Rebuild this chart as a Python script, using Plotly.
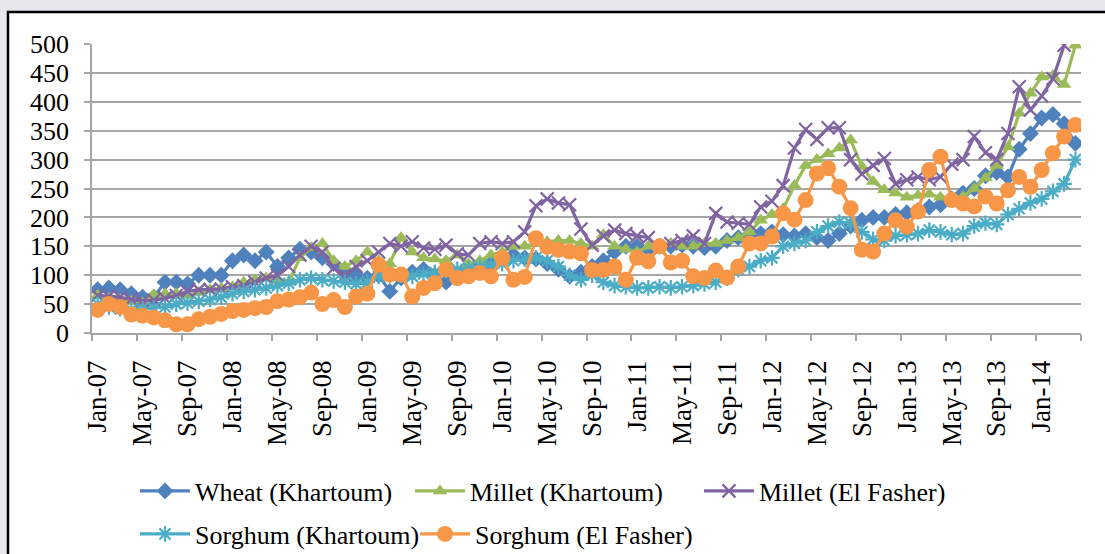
import plotly.graph_objects as go

month_names = ["Jan", "Feb", "Mar", "Apr", "May", "Jun",
               "Jul", "Aug", "Sep", "Oct", "Nov", "Dec"]
months = [f"{m}-{y:02d}" for y in range(7, 15) for m in month_names][:88]

wheat_khartoum = [
    75, 78, 75, 68, 62, 62, 88, 88, 85, 100, 100, 100,
    125, 135, 125, 140, 115, 130, 145, 140, 130, 120, 105, 100,
    95, 100, 72, 95, 105, 110, 100, 88, 100, 110, 115, 120,
    130, 135, 130, 128, 120, 110, 98, 105, 115, 125, 140, 150,
    150, 145, 150, 150, 152, 150, 148, 150, 160, 165, 170, 172,
    175, 170, 168, 172, 165, 160, 172, 185, 195, 200, 200, 205,
    208, 212, 218, 222, 232, 242, 250, 272, 278, 270, 318, 345,
    372, 378, 362, 328]

millet_khartoum = [
    65, 60, 58, 55, 52, 66, 68, 68, 65, 70, 75, 78,
    80, 88, 92, 95, 92, 88, 130, 148, 155, 125, 115, 125,
    140, 125, 120, 165, 140, 130, 128, 125, 135, 120, 125, 135,
    140, 150, 150, 155, 158, 160, 160, 155, 150, 170, 150, 145,
    140, 150, 150, 155, 150, 150, 155, 155, 160, 165, 175, 195,
    205, 215, 255, 290, 300, 310, 320, 334, 288, 262, 248, 242,
    235, 238, 240, 235, 232, 236, 250, 268, 290, 322, 380, 415,
    443, 445, 430, 498]

millet_el_fasher = [
    65, 63, 62, 58, 55, 57, 60, 65, 72, 75, 75, 76,
    80, 82, 88, 95, 100, 115, 135, 150, 140, 112, 100, 115,
    125, 140, 155, 150, 158, 147, 145, 152, 137, 135, 155, 158,
    155, 158, 175, 220, 232, 225, 222, 180, 152, 168, 178, 172,
    168, 165, 145, 155, 160, 168, 155, 207, 192, 190, 188, 218,
    228, 255, 320, 352, 335, 355, 355, 300, 275, 290, 302, 258,
    265, 270, 265, 270, 292, 300, 340, 312, 300, 345, 426, 386,
    410, 440, 498, None]

sorghum_khartoum = [
    50, 45, 42, 40, 42, 43, 45, 50, 52, 55, 58, 62,
    68, 72, 75, 78, 82, 86, 92, 95, 92, 90, 88, 85,
    88, 98, 100, 100, 98, 102, 105, 108, 110, 112, 115, 118,
    120, 125, 128, 130, 125, 115, 100, 92, 100, 88, 82, 80,
    78, 78, 80, 78, 80, 82, 85, 88, 95, 110, 115, 125,
    130, 150, 155, 160, 175, 185, 192, 190, 175, 162, 160, 168,
    170, 172, 178, 175, 170, 172, 185, 190, 188, 205, 215, 225,
    232, 245, 258, 300]

sorghum_el_fasher = [
    40, 50, 45, 32, 30, 27, 22, 15, 15, 24, 28, 33,
    38, 40, 43, 45, 55, 58, 62, 70, 50, 57, 45, 63,
    68, 118, 101, 101, 63, 78, 86, 110, 95, 98, 104, 98,
    130, 92, 97, 164, 149, 144, 141, 138, 109, 109, 115, 92,
    130, 124, 150, 122, 125, 98, 95, 108, 96, 115, 155, 155,
    167, 207, 196, 230, 276, 285, 253, 216, 144, 141, 172, 195,
    184, 210, 282, 305, 230, 224, 219, 236, 224, 247, 270, 253,
    282, 311, 340, 360]

series_names = ["Wheat (Khartoum)", "Millet (Khartoum)", "Millet (El Fasher)",
                "Sorghum (Khartoum)", "Sorghum (El Fasher)"]
series_values = [wheat_khartoum, millet_khartoum, millet_el_fasher,
                 sorghum_khartoum, sorghum_el_fasher]
colors = ["#4F81BD", "#9BBB59", "#8064A2", "#4BACC6", "#F79646"]
markers = [
    dict(symbol="diamond", size=13),
    dict(symbol="triangle-up", size=13),
    dict(symbol="x-thin-open", size=13, line=dict(width=2.2)),
    dict(symbol="asterisk-open", size=13, line=dict(width=2.2)),
    dict(symbol="circle", size=16),
]

W, H = 1105, 554
L, R, T, B = 92, 24, 44, 221
PW, PH = W - L - R, H - T - B
BG = "#E6E6EC"


def px_x(x):
    return (x - L) / PW


def px_y(y):
    return (H - B - y) / PH


FONT = "Liberation Serif, Times New Roman, serif"

legend_pos = [(135, 491), (410, 491), (699, 491), (135, 534), (415, 534)]
legend_keys = ["legend", "legend2", "legend3", "legend4", "legend5"]

fig = go.Figure()
for name, vals, col, mk, lk in zip(series_names, series_values, colors, markers, legend_keys):
    m = dict(mk)
    m["color"] = col
    if "line" in m:
        m["line"] = dict(m["line"], color=col)
    fig.add_trace(go.Scatter(
        x=months, y=vals, name=name, mode="lines+markers",
        line=dict(color=col, width=3.2), marker=m, legend=lk,
        connectgaps=False,
    ))

layout_legends = {}
for lk, (lx, ly) in zip(legend_keys, legend_pos):
    layout_legends[lk] = dict(
        x=px_x(lx), y=px_y(ly), xanchor="left", yanchor="middle",
        orientation="h", bgcolor="rgba(0,0,0,0)", borderwidth=0,
        font=dict(family=FONT, size=26, color="black"), itemwidth=50,
    )

axis_gray = "#A6A6A6"
fig.update_layout(
    width=W, height=H,
    margin=dict(l=L, r=R, t=T, b=B, pad=0, autoexpand=False),
    paper_bgcolor=BG,
    plot_bgcolor="white",
    showlegend=True,
    shapes=[dict(type="rect", xref="paper", yref="paper",
                 x0=px_x(8), x1=px_x(1120), y0=px_y(570), y1=px_y(12),
                 line=dict(color="black", width=2.5), fillcolor="white",
                 layer="below")],
    xaxis=dict(
        type="category", range=[-0.5, 87.5], tickmode="linear", tick0=0, dtick=4,
        tickson="boundaries", tickangle=-90, ticks="outside", ticklen=6,
        tickcolor=axis_gray, tickwidth=1.5, showline=True, linecolor=axis_gray,
        linewidth=1.5, showgrid=False, ticklabelstandoff=15, automargin=False,
        tickfont=dict(family=FONT, size=27, color="black"),
    ),
    yaxis=dict(
        range=[0, 500], tickmode="linear", tick0=0, dtick=50,
        showgrid=True, gridcolor=axis_gray, gridwidth=1.5,
        showline=True, linecolor=axis_gray, linewidth=1.5,
        ticks="outside", ticklen=6, tickcolor=axis_gray, tickwidth=1.5,
        zeroline=False, ticklabelstandoff=10, automargin=False,
        tickfont=dict(family=FONT, size=26, color="black"),
    ),
    **layout_legends,
)

fig.write_html(
    "out.html",
    config={"displayModeBar": False},
    post_script=("document.body.style.margin='0';"
                 "document.body.style.background='" + BG + "';"),
)
